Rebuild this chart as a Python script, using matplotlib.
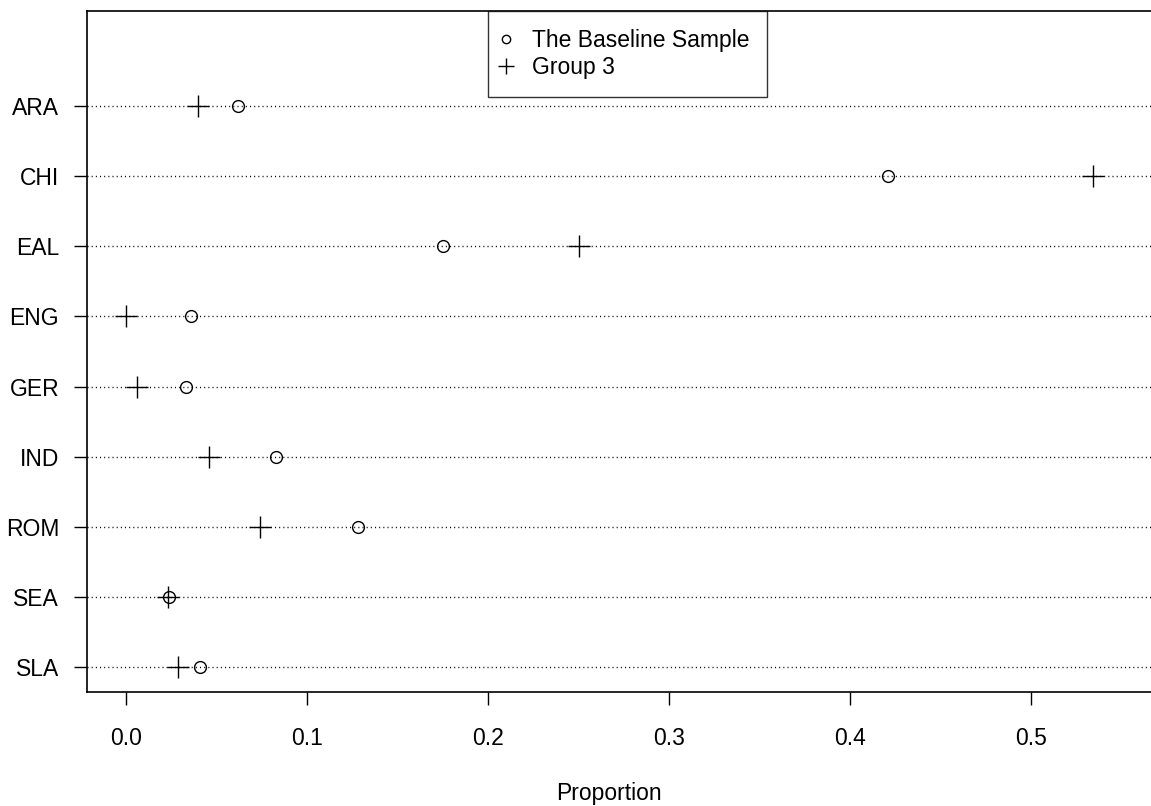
import matplotlib
matplotlib.use("Agg")
import matplotlib.pyplot as plt
from matplotlib.lines import Line2D
import numpy as np

plt.rcParams["font.family"] = ["Liberation Sans", "DejaVu Sans"]

# language groups, top to bottom
groups = ["ARA", "CHI", "EAL", "ENG", "GER", "IND", "ROM", "SEA", "SLA"]
baseline = [0.062, 0.421, 0.175, 0.036, 0.033, 0.083, 0.128, 0.024, 0.041]
group3 = [0.040, 0.534, 0.250, 0.000, 0.006, 0.046, 0.074, 0.023, 0.029]
xticks = [0.0, 0.1, 0.2, 0.3, 0.4, 0.5]

W, H = 1151, 806
fig = plt.figure(figsize=(W / 100, H / 100), dpi=100)
# axes box in pixels: left 87, right past the edge, top 11, bottom 692
left, right, top, bottom = 87, 1157, 11, 692
ax = fig.add_axes([left / W, 1 - bottom / H, (right - left) / W, (bottom - top) / H])

ypos = np.arange(len(groups), 0, -1)
for y in ypos:
    ax.axhline(y, color="black", lw=1.0, ls=(0, (0.75, 2.25)), zorder=1)

ax.plot(baseline, ypos, ls="none", marker="o", ms=8.5, mfc="none",
        mec="black", mew=1.0, zorder=3)
ax.plot(group3, ypos, ls="none", marker="+", ms=16, mec="black",
        mew=1.0, zorder=3)

ax.set_xlim(-0.0215, -0.0215 + (right - left) / 1811)
ax.set_ylim(0.64, 10.36)
ax.set_yticks(ypos)
ax.set_yticklabels(groups)
ax.set_xticks(xticks)
ax.set_xticklabels([f"{t:.1f}" for t in xticks])
ax.tick_params(axis="both", direction="out", length=9.5, width=1.0,
               labelsize=16.5, color="black")
ax.tick_params(axis="y", pad=10.5)
ax.tick_params(axis="x", pad=16)
for s in ax.spines.values():
    s.set_linewidth(1.2)

ax.set_xlabel("Proportion", fontsize=16.5, labelpad=23)
ax.xaxis.label.set_x((609 - left) / (right - left))

handles = [
    Line2D([], [], ls="none", marker="o", ms=6, mfc="none", mec="black", mew=1.0),
    Line2D([], [], ls="none", marker="+", ms=11, mec="black", mew=1.0),
]
leg = ax.legend(handles, ["The Baseline Sample", "Group 3"],
                loc="upper left", bbox_to_anchor=(488 / W, 1 - 11 / H),
                bbox_transform=fig.transFigure, fontsize=16.5,
                frameon=True, fancybox=False, borderaxespad=0,
                borderpad=0.8, handlelength=0.0, handletextpad=1.1,
                labelspacing=0.15, edgecolor="black")
leg.get_frame().set_linewidth(1.0)

fig.savefig("out.png", dpi=100)
